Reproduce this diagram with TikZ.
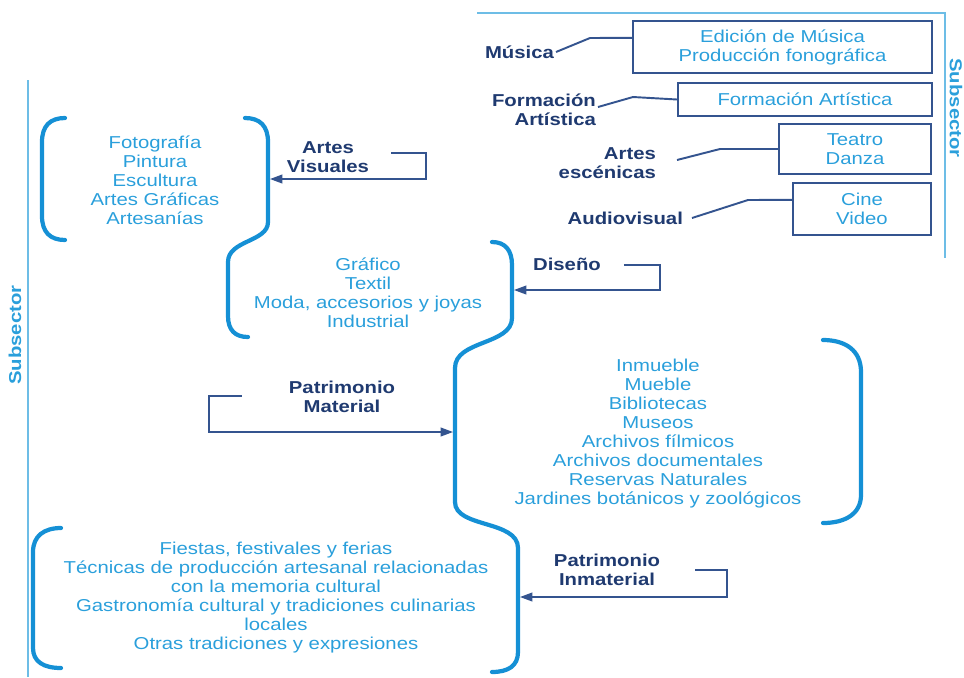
\documentclass[tikz,border=0pt]{standalone}
\usepackage{fontspec}
\setmainfont{Liberation Sans}[FakeStretch=1.18]
\usetikzlibrary{arrows.meta,calc}
\definecolor{lblue}{HTML}{2A9FDB}
\definecolor{bblue}{HTML}{1590D5}
\definecolor{dblue}{HTML}{1F3A70}
\definecolor{cblue}{HTML}{34548F}
\definecolor{sblue}{HTML}{6DBDE6}

\begin{document}
\begin{tikzpicture}[x=0.02cm, y=-0.02cm,
        node list/.style = {align=center, text=lblue, font=\fontsize{9.8}{10.8}\selectfont, inner sep=0pt},
        node label/.style = {align=center, text=dblue, font=\fontsize{9.8}{10.8}\selectfont\bfseries, inner sep=1pt},
        node box/.style = {rectangle, draw=cblue, line width=1.1pt, align=center, text=lblue, font=\fontsize{9.8}{10.8}\selectfont, inner sep=0pt},
        node side/.style = {text=lblue, font=\fontsize{9.8}{10.8}\selectfont\bfseries, inner sep=0pt},
        brace/.style = {draw=bblue, line width=2.4pt, line cap=round},
        conn/.style = {draw=cblue, line width=1.1pt},
        elbow/.style = {draw=cblue, line width=0.8pt, -{Triangle[length=7pt,width=5pt]}},
        frame/.style = {draw=sblue, line width=0.9pt},
        ]
        \useasboundingbox (0,0) rectangle (964,677);

        % Frame lines and side titles
        \draw[frame] (477,13) -- (945,13) -- (945,258);
        \draw[frame] (28,80) -- (28,677);
        \node[node side, rotate=90] (SUBL) at (15,335) {Subsector};
        \node[node side, rotate=-90] (SUBR) at (956,108) {Subsector};

        % Boxes, top right
        \node[node box, minimum width=5.98cm, minimum height=1.04cm] (B1) at (782.5,47) {Edición de Música\\Producción fonográfica};
        \node[node box, minimum width=5.08cm, minimum height=0.66cm] (B2) at (805,99.5) {Formación Artística};
        \node[node box, minimum width=3.04cm, minimum height=1.0cm] (B3) at (855,149) {Teatro\\Danza};
        \node[node box, minimum width=2.76cm, minimum height=1.04cm] (B4) at (862,209) {Cine\\Video};

        % Labels, top right
        \node[node label, anchor=east] (MU) at (556,52) {Música};
        \node[node label, align=right, anchor=east] (FA) at (598,110) {Formación\\Artística};
        \node[node label, align=right, anchor=east] (AE) at (658,163) {Artes\\escénicas};
        \node[node label, anchor=east] (AU) at (685,218) {Audiovisual};

        % Connectors, top right
        \draw[conn] (MU.east) -- (590,38) -- ($(B1.north west)!0.33!(B1.south west)$);
        \draw[conn] ($(FA.east)+(0,-3)$) -- (633,97) -- (B2.west);
        \draw[conn] ($(AE.east)+(19,-3)$) -- (720,149) -- (B3.west);
        \draw[conn] ($(AU.east)+(7,0)$) -- (748,200) -- ($(B4.north west)!0.33!(B4.south west)$);

        % Lists
        \node[node list] (LAV) at (155,180) {Fotografía\\Pintura\\Escultura\\Artes Gráficas\\Artesanías};
        \node[node list] (LDI) at (368,292.5) {Gráfico\\Textil\\Moda, accesorios y joyas\\Industrial};
        \node[node list] (LPM) at (658,433.5) {Inmueble\\Mueble\\Bibliotecas\\Museos\\Archivos fílmicos\\Archivos documentales\\Reservas Naturales\\Jardines botánicos y zoológicos};
        \node[node list] (LPI) at (276,597.5) {Fiestas, festivales y ferias\\Técnicas de producción artesanal relacionadas\\con la memoria cultural\\Gastronomía cultural y tradiciones culinarias\\locales\\Otras tradiciones y expresiones};

        % Brackets
        \draw[brace] (65,118) .. controls (50,118) and (42,126) .. (42,142) -- (42,216) .. controls (42,232) and (50,240) .. (65,240);
        \draw[brace] (245,118) .. controls (260,118) and (268,126) .. (268,142) -- (268,222) .. controls (268,242) and (228,240) .. (228,262) -- (228,316) .. controls (228,330) and (235,337) .. (248,337);
        \draw[brace] (492,242) .. controls (505,242) and (512,250) .. (512,265) -- (512,318) .. controls (512,345) and (455,340) .. (455,368) -- (455,502) .. controls (455,528) and (518,520) .. (518,548) -- (518,652) .. controls (518,666) and (508,672) .. (492,672);
        \draw[brace] (823,340) .. controls (845,340) and (861,350) .. (861,372) -- (861,495) .. controls (861,514) and (845,523) .. (823,523);
        \draw[brace] (61,528) .. controls (44,528) and (33,536) .. (33,552) -- (33,648) .. controls (33,662) and (44,668) .. (61,668);

        % Labels, left part
        \node[node label] (AV) at (328,157) {Artes\\Visuales};
        \node[node label] (DI) at (567,264) {Diseño};
        \node[node label] (PM) at (342,397) {Patrimonio\\Material};
        \node[node label] (PI) at (607,570) {Patrimonio\\Inmaterial};

        % Arrow tips on the brackets
        \coordinate (AVtip) at (270,179);
        \coordinate (DItip) at (514,290);
        \coordinate (PMtip) at (453,432);
        \coordinate (PItip) at (520,597);

        % Elbow arrows
        \draw[elbow] ($(AV.east)+(20,-4)$) -- ++(35,0) |- (AVtip);
        \draw[elbow] ($(DI.east)+(21,1)$) -- ++(36,0) |- (DItip);
        \draw[elbow] ($(PM.west)+(-45,-1)$) -- ++(-33,0) |- (PMtip);
        \draw[elbow] ($(PI.east)+(33,0)$) -- ++(32,0) |- (PItip);
    \end{tikzpicture}
\end{document}
